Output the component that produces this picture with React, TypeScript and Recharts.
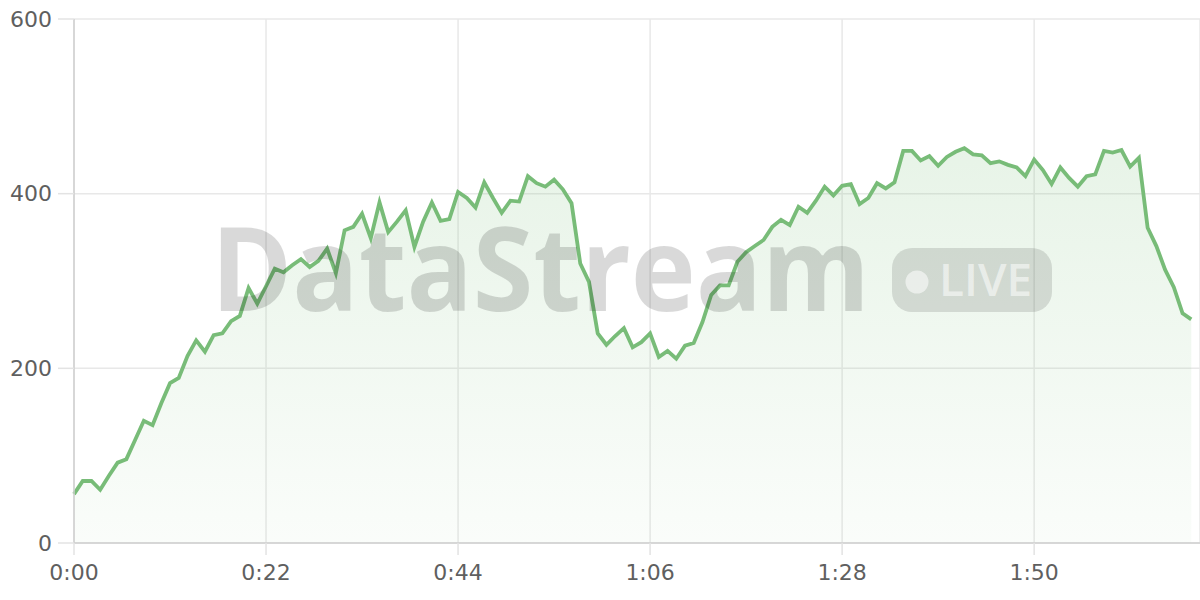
import React from "react";
import { AreaChart, Area, XAxis, YAxis, CartesianGrid } from "recharts";

const seconds: number[] = Array.from({ length: 129 }, (_, i) => i);

const values: number[] = [
  56, 71, 71, 61, 77, 92, 96, 118, 140, 135,
  160, 183, 189, 214, 232, 219, 238, 240, 254, 260,
  292, 274, 294, 314, 310, 318, 325, 316, 323, 337,
  309, 358, 362, 377, 349, 390, 356, 368, 381, 339,
  368, 390, 369, 371, 402, 395, 384, 413, 395, 378,
  392, 391, 420, 412, 408, 416, 405, 389, 320, 299,
  240, 227, 237, 246, 224, 230, 240, 213, 220, 211,
  226, 229, 253, 284, 295, 295, 322, 333, 340, 347,
  362, 370, 364, 385, 378, 392, 408, 398, 409, 411,
  388, 395, 412, 406, 413, 449, 449, 438, 443, 432,
  442, 448, 452, 445, 444, 435, 437, 433, 430, 420,
  439, 427, 411, 430, 418, 408, 420, 422, 449, 447,
  450, 431, 441, 361, 340, 313, 293, 263, 256,
];

const xTicks: number[] = [0, 22, 44, 66, 88, 110];
const yTicks: number[] = [0, 200, 400, 600];

const data = seconds.map((t, i) => ({ t, v: values[i] }));

const fmtTime = (s: number) => {
  const m = Math.floor(s / 60);
  const ss = s % 60;
  return `${m}:${ss < 10 ? "0" : ""}${ss}`;
};

const tickStyle = { fill: "#5f5f5f", fontSize: 22, fontFamily: "DejaVu Sans, sans-serif" };

export default function App() {
  return (
    <div style={{ position: "absolute", left: 0, top: 0, width: 1200, height: 600, background: "#fff" }}>
      <AreaChart width={1200} height={600} data={data} margin={{ top: 19, right: 0, left: 0, bottom: 0 }}>
        <defs>
          <linearGradient id="fillG" x1="0" y1="0" x2="0" y2="1">
            <stop offset="0%" stopColor="#7cc07c" stopOpacity={0.3} />
            <stop offset="100%" stopColor="#7cc07c" stopOpacity={0.06} />
          </linearGradient>
        </defs>
        <CartesianGrid stroke="#e8e8e8" strokeWidth={1.5} />
        <XAxis
          dataKey="t"
          type="number"
          domain={[0, 129]}
          ticks={xTicks}
          tickFormatter={fmtTime}
          tick={tickStyle}
          tickLine={{ stroke: "#e3e3e3", strokeWidth: 1.5 }}
          axisLine={{ stroke: "#cfcfcf", strokeWidth: 1.5 }}
          tickSize={12}
          tickMargin={9}
          height={57}
          interval={0}
        />
        <YAxis
          type="number"
          domain={[0, 600]}
          ticks={yTicks}
          tick={tickStyle}
          tickLine={{ stroke: "#e3e3e3", strokeWidth: 1.5 }}
          axisLine={{ stroke: "#cfcfcf", strokeWidth: 1.5 }}
          tickSize={16}
          tickMargin={6}
          width={74}
          interval={0}
        />
        <Area
          type="linear"
          dataKey="v"
          stroke="#78bc78"
          strokeWidth={3.8}
          fill="url(#fillG)"
          isAnimationActive={false}
          dot={false}
          activeDot={false}
        />
      </AreaChart>
      <svg
        width={1200}
        height={600}
        style={{ position: "absolute", left: 0, top: 0, pointerEvents: "none" }}
      >
        <text
          x={211}
          y={311}
          textLength={659}
          lengthAdjust="spacingAndGlyphs"
          fontFamily="Open Sans, sans-serif"
          fontWeight={700}
          fontSize={116}
          fill="#000"
          fillOpacity={0.15}
        >
          DataStream
        </text>
        <rect x={892} y={248} width={160} height={64} rx={20} fill="#000" fillOpacity={0.12} />
        <circle cx={917} cy={282} r={11.5} fill="#fff" fillOpacity={0.55} />
        <text
          x={939}
          y={296}
          textLength={93}
          lengthAdjust="spacingAndGlyphs"
          fontFamily="Open Sans, sans-serif"
          fontWeight={600}
          fontSize={46}
          fill="#fff"
          fillOpacity={0.55}
        >
          LIVE
        </text>
      </svg>
    </div>
  );
}
